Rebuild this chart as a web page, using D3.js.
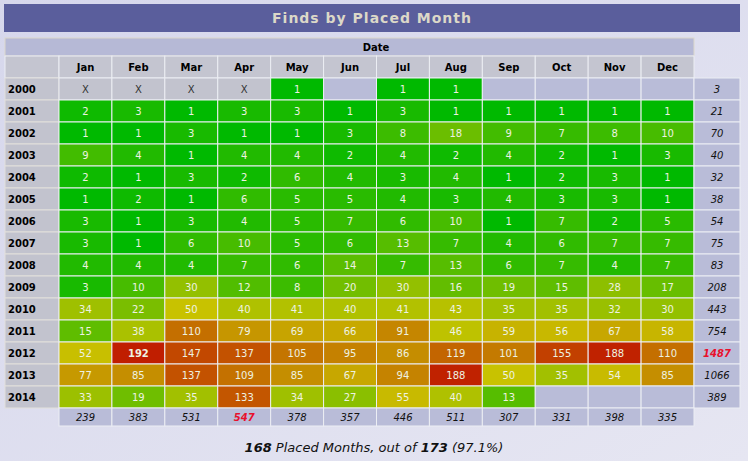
<!DOCTYPE html>
<html>
<head>
<meta charset="UTF-8">
<title>Finds by Placed Month</title>
<script src="https://cdn.jsdelivr.net/npm/d3@7"></script>
<style>
    body { margin: 0; background: #dcdcee; }
    svg { display: block; font-family: "DejaVu Sans", Verdana, sans-serif; }
</style>
</head>
<body>
<script>
// data: "x" = before the first month, 0 = no finds, null = not yet reached
var months = ["Jan", "Feb", "Mar", "Apr", "May", "Jun", "Jul", "Aug", "Sep", "Oct", "Nov", "Dec"];
var years = ["2000", "2001", "2002", "2003", "2004", "2005", "2006", "2007",
             "2008", "2009", "2010", "2011", "2012", "2013", "2014"];
var finds = [
    ["x", "x", "x", "x", 1, 0, 1, 1, 0, 0, 0, 0],
    [2, 3, 1, 3, 3, 1, 3, 1, 1, 1, 1, 1],
    [1, 1, 3, 1, 1, 3, 8, 18, 9, 7, 8, 10],
    [9, 4, 1, 4, 4, 2, 4, 2, 4, 2, 1, 3],
    [2, 1, 3, 2, 6, 4, 3, 4, 1, 2, 3, 1],
    [1, 2, 1, 6, 5, 5, 4, 3, 4, 3, 3, 1],
    [3, 1, 3, 4, 5, 7, 6, 10, 1, 7, 2, 5],
    [3, 1, 6, 10, 5, 6, 13, 7, 4, 6, 7, 7],
    [4, 4, 4, 7, 6, 14, 7, 13, 6, 7, 4, 7],
    [3, 10, 30, 12, 8, 20, 30, 16, 19, 15, 28, 17],
    [34, 22, 50, 40, 41, 40, 41, 43, 35, 35, 32, 30],
    [15, 38, 110, 79, 69, 66, 91, 46, 59, 56, 67, 58],
    [52, 192, 147, 137, 105, 95, 86, 119, 101, 155, 188, 110],
    [77, 85, 137, 109, 85, 67, 94, 188, 50, 35, 54, 85],
    [33, 19, 35, 133, 34, 27, 55, 40, 13, null, null, null]
];

var W = 748, H = 461;
var num = function(v) { return typeof v === "number" ? v : 0; };

var rowTotals = finds.map(function(r) { return d3.sum(r, num); });
var colTotals = months.map(function(m, j) { return d3.sum(finds, function(r) { return num(r[j]); }); });
var cells = [];
finds.forEach(function(r, i) {
    r.forEach(function(v, j) { cells.push({ year: years[i], month: months[j], value: v }); });
});
var maxCell = d3.max(cells, function(d) { return num(d.value); });
var eligible = cells.filter(function(d) { return typeof d.value === "number"; }).length;
var placed = cells.filter(function(d) { return d.value > 0; }).length;

var x = d3.scaleBand().domain(months).range([59, 694]);
var y = d3.scaleBand().domain(years).range([78, 408]);
// green -> yellow -> red, square root scale
var color = d3.scaleSqrt()
    .domain([1, 50, maxCell])
    .range(["#00b900", "#c8c200", "#c01e00"])
    .interpolate(d3.interpolateRgb)
    .clamp(true);

var svg = d3.select("body").append("svg")
    .attr("width", W)
    .attr("height", H);

var defs = svg.append("defs");
var bg = defs.append("linearGradient").attr("id", "bg")
    .attr("x1", 0).attr("y1", 0).attr("x2", 1).attr("y2", 1);
bg.append("stop").attr("offset", 0).attr("stop-color", "#d6d7ec");
bg.append("stop").attr("offset", 1).attr("stop-color", "#e6e6f2");

svg.append("rect").attr("width", W).attr("height", H).attr("fill", "url(#bg)");

// title bar
svg.append("rect")
    .attr("x", 4).attr("y", 4).attr("width", 736).attr("height", 28)
    .attr("fill", "#5a5e9c");
svg.append("text")
    .attr("x", 372).attr("y", 23)
    .attr("text-anchor", "middle")
    .attr("fill", "#dcd8c8")
    .style("font-size", "14px")
    .style("font-weight", "bold")
    .style("letter-spacing", "1px")
    .text("Finds by Placed Month");

var grid = "#eceef4";

// header rows
svg.append("rect")
    .attr("x", 5).attr("y", 38).attr("width", 689).attr("height", 18)
    .attr("fill", "#b6b9d6").attr("stroke", "#dcd8cc");
svg.append("text")
    .attr("x", 376).attr("y", 51)
    .attr("text-anchor", "middle")
    .style("font-size", "10px").style("font-weight", "bold")
    .text("Date");

svg.append("rect")
    .attr("x", 5).attr("y", 56).attr("width", 54).attr("height", 22)
    .attr("fill", "#c4c5d0").attr("stroke", grid);

var head = svg.append("g").selectAll("g")
    .data(months)
    .enter().append("g");
head.append("rect")
    .attr("x", function(d) { return x(d); })
    .attr("y", 56)
    .attr("width", x.bandwidth())
    .attr("height", 22)
    .attr("fill", "#c4c5d0")
    .attr("stroke", grid);
head.append("text")
    .attr("x", function(d) { return x(d) + x.bandwidth() / 2; })
    .attr("y", 71)
    .attr("text-anchor", "middle")
    .style("font-size", "10px").style("font-weight", "bold")
    .text(function(d) { return d; });

// year labels
var yr = svg.append("g").selectAll("g")
    .data(years)
    .enter().append("g");
yr.append("rect")
    .attr("x", 5)
    .attr("y", function(d) { return y(d); })
    .attr("width", 54)
    .attr("height", y.bandwidth())
    .attr("fill", "#c2c3ce")
    .attr("stroke", "#e2e0dc");
yr.append("text")
    .attr("x", 8)
    .attr("y", function(d) { return y(d) + y.bandwidth() / 2 + 4; })
    .style("font-size", "10px").style("font-weight", "bold")
    .text(function(d) { return d; });

// cells
var cell = svg.append("g").selectAll("g")
    .data(cells)
    .enter().append("g");
cell.append("rect")
    .attr("x", function(d) { return x(d.month); })
    .attr("y", function(d) { return y(d.year); })
    .attr("width", x.bandwidth())
    .attr("height", y.bandwidth())
    .attr("fill", function(d) {
        if (d.value === "x") return "#c2c3ce";
        return d.value > 0 ? color(d.value) : "#b9bcd8";
    })
    .attr("stroke", grid);
cell.append("text")
    .attr("x", function(d) { return x(d.month) + x.bandwidth() / 2; })
    .attr("y", function(d) { return y(d.year) + y.bandwidth() / 2 + 4; })
    .attr("text-anchor", "middle")
    .attr("fill", function(d) { return d.value === "x" ? "#333" : "#eef2e2"; })
    .style("font-size", "10px")
    .style("font-weight", function(d) { return d.value === maxCell ? "bold" : "normal"; })
    .text(function(d) {
        if (d.value === "x") return "X";
        return d.value > 0 ? d.value : "";
    });

// row totals
var maxRow = d3.max(rowTotals);
var rt = svg.append("g").selectAll("g")
    .data(rowTotals)
    .enter().append("g");
rt.append("rect")
    .attr("x", 694)
    .attr("y", function(d, i) { return y(years[i]); })
    .attr("width", 46)
    .attr("height", y.bandwidth())
    .attr("fill", "#b9bcd8")
    .attr("stroke", grid);
rt.append("text")
    .attr("x", 717)
    .attr("y", function(d, i) { return y(years[i]) + y.bandwidth() / 2 + 4; })
    .attr("text-anchor", "middle")
    .attr("fill", function(d) { return d === maxRow ? "#e8102c" : "#111"; })
    .style("font-size", "10px")
    .style("font-style", "italic")
    .style("font-weight", function(d) { return d === maxRow ? "bold" : "normal"; })
    .text(function(d) { return d; });

// column totals
var maxCol = d3.max(colTotals);
var ct = svg.append("g").selectAll("g")
    .data(colTotals)
    .enter().append("g");
ct.append("rect")
    .attr("x", function(d, i) { return x(months[i]); })
    .attr("y", 408)
    .attr("width", x.bandwidth())
    .attr("height", 18)
    .attr("fill", "#b9bcd8")
    .attr("stroke", grid);
ct.append("text")
    .attr("x", function(d, i) { return x(months[i]) + x.bandwidth() / 2; })
    .attr("y", 421)
    .attr("text-anchor", "middle")
    .attr("fill", function(d) { return d === maxCol ? "#e8102c" : "#111"; })
    .style("font-size", "10px")
    .style("font-style", "italic")
    .style("font-weight", function(d) { return d === maxCol ? "bold" : "normal"; })
    .text(function(d) { return d; });

// footer
var foot = svg.append("text")
    .attr("x", 374).attr("y", 452)
    .attr("text-anchor", "middle")
    .attr("fill", "#111")
    .style("font-size", "13px")
    .style("font-style", "italic");
foot.append("tspan").style("font-weight", "bold").text(placed);
foot.append("tspan").text(" Placed Months, out of ");
foot.append("tspan").style("font-weight", "bold").text(eligible);
foot.append("tspan").text(" (" + (placed / eligible * 100).toFixed(1) + "%)");
</script>
</body>
</html>
